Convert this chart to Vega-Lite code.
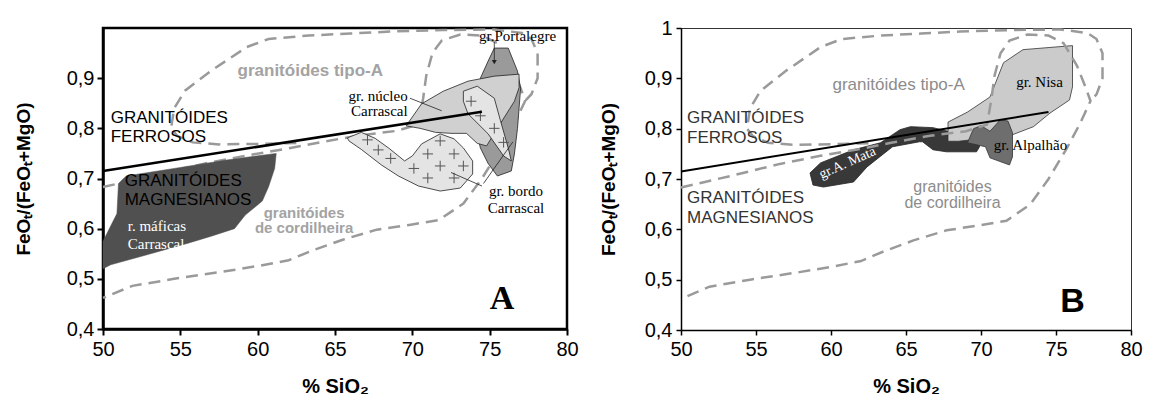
{
  "$schema": "https://vega.github.io/schema/vega-lite/v6.json",
  "background": "white",
  "padding": {"left": 12, "top": 17, "right": 5, "bottom": 5},
  "spacing": 18,
  "config": {
    "view": {"stroke": null},
    "axis": {"grid": false, "labelFont": "Liberation Sans", "titleFont": "Liberation Sans", "labelColor": "black", "titleColor": "black", "tickColor": "black", "domainColor": "black", "labelOverlap": false, "labelFlush": false}
  },
  "datasets": {
    "typeA": [
      {"x": 62.5, "y": 0.771}, {"x": 60, "y": 0.769}, {"x": 57.5, "y": 0.768}, {"x": 55.8, "y": 0.772}, {"x": 54.8, "y": 0.785}, {"x": 54.4, "y": 0.8}, {"x": 54.6, "y": 0.84}, {"x": 55.3, "y": 0.875}, {"x": 57, "y": 0.915}, {"x": 59.3, "y": 0.962}, {"x": 60.7, "y": 0.978}, {"x": 63.3, "y": 0.985}, {"x": 66, "y": 0.989}, {"x": 68.6, "y": 0.993}, {"x": 72, "y": 0.996}, {"x": 75.3, "y": 0.997}, {"x": 77.1, "y": 0.99}, {"x": 77.7, "y": 0.978}, {"x": 78.1, "y": 0.95}, {"x": 78.1, "y": 0.9}, {"x": 77.7, "y": 0.868}, {"x": 77.3, "y": 0.855}
    ],
    "cord": [
      {"x": 50, "y": 0.683}, {"x": 53.3, "y": 0.706}, {"x": 56.6, "y": 0.73}, {"x": 59.3, "y": 0.746}, {"x": 62, "y": 0.76}, {"x": 64, "y": 0.772}, {"x": 66.6, "y": 0.786}, {"x": 69, "y": 0.795}, {"x": 70.4, "y": 0.808}, {"x": 70.7, "y": 0.86}, {"x": 70.9, "y": 0.905}, {"x": 71.3, "y": 0.95}, {"x": 71.9, "y": 0.975}, {"x": 73.1, "y": 0.987}, {"x": 74.5, "y": 0.985}, {"x": 75.5, "y": 0.97}, {"x": 76.4, "y": 0.925}, {"x": 77, "y": 0.88}, {"x": 77.3, "y": 0.855}, {"x": 76.6, "y": 0.81}, {"x": 75.7, "y": 0.76}, {"x": 74.5, "y": 0.7}, {"x": 73.3, "y": 0.65}, {"x": 71.7, "y": 0.617}, {"x": 69.9, "y": 0.608}, {"x": 67.7, "y": 0.598}, {"x": 65.5, "y": 0.578}, {"x": 63.5, "y": 0.556}, {"x": 62, "y": 0.537}, {"x": 60.1, "y": 0.526}, {"x": 57.9, "y": 0.515}, {"x": 54.6, "y": 0.5}, {"x": 51.9, "y": 0.486}, {"x": 50, "y": 0.462}
    ],
    "bound": [{"x": 50, "y": 0.715}, {"x": 74.5, "y": 0.833}],
    "polyA": [
      {"g": "maf", "x": 50, "y": 0.52}, {"g": "maf", "x": 50, "y": 0.575}, {"g": "maf", "x": 50.9, "y": 0.63}, {"g": "maf", "x": 51.0, "y": 0.69}, {"g": "maf", "x": 51.5, "y": 0.705}, {"g": "maf", "x": 55, "y": 0.722}, {"g": "maf", "x": 58, "y": 0.737}, {"g": "maf", "x": 61.2, "y": 0.75}, {"g": "maf", "x": 61.1, "y": 0.72}, {"g": "maf", "x": 60.7, "y": 0.683}, {"g": "maf", "x": 60.3, "y": 0.655}, {"g": "maf", "x": 59.2, "y": 0.627}, {"g": "maf", "x": 58.5, "y": 0.6}, {"g": "maf", "x": 57, "y": 0.585}, {"g": "maf", "x": 55.5, "y": 0.571}, {"g": "maf", "x": 52.5, "y": 0.545}, {"g": "maf", "x": 50.5, "y": 0.528},
      {"g": "bordo", "x": 65.8, "y": 0.781}, {"g": "bordo", "x": 66.7, "y": 0.792}, {"g": "bordo", "x": 67.6, "y": 0.78}, {"g": "bordo", "x": 68.5, "y": 0.76}, {"g": "bordo", "x": 69.5, "y": 0.735}, {"g": "bordo", "x": 70, "y": 0.745}, {"g": "bordo", "x": 70.6, "y": 0.769}, {"g": "bordo", "x": 71.8, "y": 0.789}, {"g": "bordo", "x": 72.7, "y": 0.779}, {"g": "bordo", "x": 73.3, "y": 0.761}, {"g": "bordo", "x": 73.9, "y": 0.735}, {"g": "bordo", "x": 73.9, "y": 0.709}, {"g": "bordo", "x": 73.1, "y": 0.681}, {"g": "bordo", "x": 71.8, "y": 0.675}, {"g": "bordo", "x": 70.4, "y": 0.685}, {"g": "bordo", "x": 69.1, "y": 0.705}, {"g": "bordo", "x": 68, "y": 0.727}, {"g": "bordo", "x": 66.7, "y": 0.758}, {"g": "bordo", "x": 65.9, "y": 0.775},
      {"g": "portal", "x": 74.9, "y": 0.934}, {"g": "portal", "x": 75.3, "y": 0.96}, {"g": "portal", "x": 76.2, "y": 0.96}, {"g": "portal", "x": 76.8, "y": 0.914}, {"g": "portal", "x": 77, "y": 0.88}, {"g": "portal", "x": 76.8, "y": 0.8}, {"g": "portal", "x": 76.6, "y": 0.749}, {"g": "portal", "x": 76.4, "y": 0.715}, {"g": "portal", "x": 75.5, "y": 0.705}, {"g": "portal", "x": 74.9, "y": 0.73}, {"g": "portal", "x": 74.4, "y": 0.761}, {"g": "portal", "x": 74, "y": 0.815}, {"g": "portal", "x": 74.2, "y": 0.86}, {"g": "portal", "x": 74.4, "y": 0.9},
      {"g": "nucleo", "x": 69.6, "y": 0.805}, {"g": "nucleo", "x": 70.6, "y": 0.849}, {"g": "nucleo", "x": 72, "y": 0.874}, {"g": "nucleo", "x": 73.6, "y": 0.894}, {"g": "nucleo", "x": 75.3, "y": 0.904}, {"g": "nucleo", "x": 76.9, "y": 0.908}, {"g": "nucleo", "x": 76.9, "y": 0.881}, {"g": "nucleo", "x": 76.6, "y": 0.854}, {"g": "nucleo", "x": 75.5, "y": 0.8}, {"g": "nucleo", "x": 74.8, "y": 0.765}, {"g": "nucleo", "x": 74.2, "y": 0.77}, {"g": "nucleo", "x": 73.5, "y": 0.79}, {"g": "nucleo", "x": 72.5, "y": 0.79}, {"g": "nucleo", "x": 71.5, "y": 0.792}, {"g": "nucleo", "x": 70.5, "y": 0.8},
      {"g": "bordoUp", "x": 73.3, "y": 0.874}, {"g": "bordoUp", "x": 74.2, "y": 0.884}, {"g": "bordoUp", "x": 75.3, "y": 0.86}, {"g": "bordoUp", "x": 75.7, "y": 0.815}, {"g": "bordoUp", "x": 76.2, "y": 0.761}, {"g": "bordoUp", "x": 76.4, "y": 0.735}, {"g": "bordoUp", "x": 75.9, "y": 0.745}, {"g": "bordoUp", "x": 74.9, "y": 0.789}, {"g": "bordoUp", "x": 73.6, "y": 0.829}, {"g": "bordoUp", "x": 73.3, "y": 0.854}
    ],
    "plusA": [
      {"x": 67.1, "y": 0.777}, {"x": 67.8, "y": 0.757}, {"x": 68.6, "y": 0.74}, {"x": 70.1, "y": 0.72}, {"x": 71, "y": 0.749}, {"x": 71.8, "y": 0.775}, {"x": 72.7, "y": 0.749}, {"x": 71.8, "y": 0.725}, {"x": 73.3, "y": 0.725}, {"x": 71, "y": 0.701}, {"x": 72.7, "y": 0.701}, {"x": 73.8, "y": 0.854}, {"x": 74.4, "y": 0.825}, {"x": 75.3, "y": 0.8}, {"x": 75.9, "y": 0.772}
    ],
    "leadA": [
      {"g": "n1", "x": 69.85, "y": 0.86}, {"g": "n1", "x": 71.9, "y": 0.835},
      {"g": "b1", "x": 74.5, "y": 0.685}, {"g": "b1", "x": 72.5, "y": 0.712},
      {"g": "b2", "x": 74.6, "y": 0.69}, {"g": "b2", "x": 76.5, "y": 0.773},
      {"g": "pa", "x": 75.3, "y": 0.972}, {"g": "pa", "x": 75.3, "y": 0.93}
    ],
    "arrowA": [{"x": 75.3, "y": 0.932}],
    "polyB": [
      {"g": "amata", "x": 58.6, "y": 0.712}, {"g": "amata", "x": 59.3, "y": 0.732}, {"g": "amata", "x": 61.5, "y": 0.758}, {"g": "amata", "x": 63.3, "y": 0.772}, {"g": "amata", "x": 64.6, "y": 0.798}, {"g": "amata", "x": 65.3, "y": 0.804}, {"g": "amata", "x": 66.8, "y": 0.802}, {"g": "amata", "x": 68.5, "y": 0.79}, {"g": "amata", "x": 69.9, "y": 0.775}, {"g": "amata", "x": 69.9, "y": 0.764}, {"g": "amata", "x": 69.7, "y": 0.754}, {"g": "amata", "x": 67.7, "y": 0.754}, {"g": "amata", "x": 66.8, "y": 0.758}, {"g": "amata", "x": 66.1, "y": 0.774}, {"g": "amata", "x": 65.9, "y": 0.774}, {"g": "amata", "x": 64.1, "y": 0.764}, {"g": "amata", "x": 62.4, "y": 0.724}, {"g": "amata", "x": 61.5, "y": 0.694}, {"g": "amata", "x": 59.5, "y": 0.684}, {"g": "amata", "x": 58.8, "y": 0.688},
      {"g": "nisa", "x": 67.8, "y": 0.775}, {"g": "nisa", "x": 67.8, "y": 0.813}, {"g": "nisa", "x": 69.1, "y": 0.833}, {"g": "nisa", "x": 70.6, "y": 0.863}, {"g": "nisa", "x": 71.5, "y": 0.931}, {"g": "nisa", "x": 72.8, "y": 0.957}, {"g": "nisa", "x": 76.1, "y": 0.965}, {"g": "nisa", "x": 76.1, "y": 0.883}, {"g": "nisa", "x": 75.9, "y": 0.857}, {"g": "nisa", "x": 74.6, "y": 0.831}, {"g": "nisa", "x": 73.5, "y": 0.804}, {"g": "nisa", "x": 72.1, "y": 0.788}, {"g": "nisa", "x": 70, "y": 0.78}, {"g": "nisa", "x": 68.5, "y": 0.775},
      {"g": "alpal", "x": 69.1, "y": 0.772}, {"g": "alpal", "x": 69.5, "y": 0.8}, {"g": "alpal", "x": 70, "y": 0.806}, {"g": "alpal", "x": 70.6, "y": 0.795}, {"g": "alpal", "x": 71.3, "y": 0.818}, {"g": "alpal", "x": 71.8, "y": 0.815}, {"g": "alpal", "x": 72.1, "y": 0.792}, {"g": "alpal", "x": 72.1, "y": 0.744}, {"g": "alpal", "x": 71.9, "y": 0.728}, {"g": "alpal", "x": 70.6, "y": 0.742}, {"g": "alpal", "x": 70.3, "y": 0.764}
    ],
    "textA": [
      {"s": "black", "x": 50.5, "y": 0.82, "t": "GRANITÓIDES\nFERROSOS"},
      {"s": "black", "x": 51.4, "y": 0.695, "t": "GRANITÓIDES\nMAGNESIANOS"},
      {"s": "grayL", "x": 58.7, "y": 0.914, "t": "granitóides tipo-A"},
      {"s": "grayC", "x": 63.0, "y": 0.631, "t": "granitóides\nde cordilheira"},
      {"s": "white", "x": 51.6, "y": 0.605, "t": "r. máficas\nCarrascal"},
      {"s": "serifC", "x": 76.8, "y": 0.984, "t": "gr.Portalegre"},
      {"s": "serifR", "x": 69.7, "y": 0.864, "t": "gr. núcleo\nCarrascal"},
      {"s": "serifC2", "x": 76.7, "y": 0.675, "t": "gr. bordo\nCarrascal"},
      {"s": "big", "x": 75.8, "y": 0.46, "t": "A"}
    ],
    "textB": [
      {"s": "black", "x": 50.4, "y": 0.8215, "t": "GRANITÓIDES\nFERROSOS"},
      {"s": "black", "x": 50.4, "y": 0.6624, "t": "GRANITÓIDES\nMAGNESIANOS"},
      {"s": "grayL", "x": 60.1, "y": 0.887, "t": "granitóides tipo-A"},
      {"s": "grayC", "x": 68.1, "y": 0.684, "t": "granitóides\nde cordilheira"},
      {"s": "serif", "x": 73.9, "y": 0.893, "t": "gr. Nisa"},
      {"s": "serif", "x": 73.3, "y": 0.768, "t": "gr. Alpalhão"},
      {"s": "mata", "x": 61.1, "y": 0.732, "t": "gr.A. Mata"},
      {"s": "big", "x": 76.1, "y": 0.456, "t": "B"}
    ]
  },
  "hconcat": [
    {
      "width": 464,
      "height": 301,
      "view": {"stroke": "black", "strokeWidth": 2.5},
      "encoding": {
        "x": {"field": "x", "type": "quantitative", "title": "% SiO₂", "scale": {"domain": [50, 80], "nice": false, "zero": false},
          "axis": {"values": [50, 55, 60, 65, 70, 75, 80], "tickSize": 6, "tickWidth": 2, "labelPadding": 4, "labelFontSize": 20, "titleFontSize": 20, "titleFontWeight": "bold", "titlePadding": 17, "domainWidth": 2.5}},
        "y": {"field": "y", "type": "quantitative", "title": "FeOₜ/(FeOₜ+MgO)", "scale": {"domain": [0.4, 1.0], "nice": false, "zero": false},
          "axis": {"values": [0.4, 0.5, 0.6, 0.7, 0.8, 0.9], "tickSize": 6, "tickWidth": 2, "labelPadding": 3, "labelFontSize": 20, "titleFontSize": 19, "titleFontWeight": "bold", "titlePadding": 33, "domainWidth": 2.5,
            "labelExpr": "replace(format(datum.value, '.1f'), '.', ',')"}}
      },
      "layer": [
        {"data": {"name": "typeA"}, "mark": {"type": "line", "stroke": "#9a9a9a", "strokeWidth": 2.5, "strokeDash": [12, 7]}, "encoding": {"order": {"value": null}}},
        {"data": {"name": "cord"}, "mark": {"type": "line", "stroke": "#9a9a9a", "strokeWidth": 2.5, "strokeDash": [12, 7]}, "encoding": {"order": {"value": null}}},
        {"data": {"name": "polyA"}, "transform": [{"filter": "datum.g == 'maf'"}], "mark": {"type": "line", "interpolate": "linear-closed", "fill": "#505050", "stroke": "#505050", "strokeWidth": 0.5}, "encoding": {"order": {"value": null}}},
        {"data": {"name": "polyA"}, "transform": [{"filter": "datum.g == 'bordo'"}], "mark": {"type": "line", "interpolate": "linear-closed", "fill": "#e4e4e4", "stroke": "#222", "strokeWidth": 0.8}, "encoding": {"order": {"value": null}}},
        {"data": {"name": "polyA"}, "transform": [{"filter": "datum.g == 'portal'"}], "mark": {"type": "line", "interpolate": "linear-closed", "fill": "#9a9a9a", "stroke": "#222", "strokeWidth": 0.8}, "encoding": {"order": {"value": null}}},
        {"data": {"name": "polyA"}, "transform": [{"filter": "datum.g == 'nucleo'"}], "mark": {"type": "line", "interpolate": "linear-closed", "fill": "#d0d0d0", "stroke": "#222", "strokeWidth": 0.8}, "encoding": {"order": {"value": null}}},
        {"data": {"name": "polyA"}, "transform": [{"filter": "datum.g == 'bordoUp'"}], "mark": {"type": "line", "interpolate": "linear-closed", "fill": "#e4e4e4", "stroke": "#222", "strokeWidth": 0.8}, "encoding": {"order": {"value": null}}},
        {"data": {"name": "plusA"}, "mark": {"type": "point", "shape": "M-1,0H1M0,-1V1", "size": 110, "filled": false, "stroke": "#555", "strokeWidth": 1, "opacity": 1}},
        {"data": {"name": "bound"}, "mark": {"type": "line", "stroke": "black", "strokeWidth": 2.5}, "encoding": {}},
        {"data": {"name": "leadA"}, "mark": {"type": "line", "stroke": "#222", "strokeWidth": 0.8}, "encoding": {"detail": {"field": "g"}, "order": {"value": null}}},
        {"data": {"name": "arrowA"}, "mark": {"type": "point", "shape": "triangle-down", "size": 25, "filled": true, "fill": "#222", "opacity": 1}},
        {"data": {"name": "textA"}, "transform": [{"filter": "datum.s == 'black'"}], "mark": {"type": "text", "font": "Liberation Sans", "fontSize": 17, "color": "black", "align": "left", "baseline": "middle", "lineBreak": "\n", "lineHeight": 19}, "encoding": {"text": {"field": "t"}}},
        {"data": {"name": "textA"}, "transform": [{"filter": "datum.s == 'grayL'"}], "mark": {"type": "text", "font": "Liberation Sans", "fontSize": 17, "fontWeight": "bold", "color": "#a3a3a3", "align": "left", "baseline": "middle"}, "encoding": {"text": {"field": "t"}}},
        {"data": {"name": "textA"}, "transform": [{"filter": "datum.s == 'grayC'"}], "mark": {"type": "text", "font": "Liberation Sans", "fontSize": 15, "fontWeight": "bold", "color": "#a3a3a3", "align": "center", "baseline": "middle", "lineBreak": "\n", "lineHeight": 15}, "encoding": {"text": {"field": "t"}}},
        {"data": {"name": "textA"}, "transform": [{"filter": "datum.s == 'white'"}], "mark": {"type": "text", "font": "Liberation Serif", "fontSize": 15, "color": "white", "align": "left", "baseline": "middle", "lineBreak": "\n", "lineHeight": 18}, "encoding": {"text": {"field": "t"}}},
        {"data": {"name": "textA"}, "transform": [{"filter": "datum.s == 'serifC'"}], "mark": {"type": "text", "font": "Liberation Serif", "fontSize": 15, "color": "black", "align": "center", "baseline": "middle"}, "encoding": {"text": {"field": "t"}}},
        {"data": {"name": "textA"}, "transform": [{"filter": "datum.s == 'serifR'"}], "mark": {"type": "text", "font": "Liberation Serif", "fontSize": 15, "color": "black", "align": "right", "baseline": "middle", "lineBreak": "\n", "lineHeight": 15}, "encoding": {"text": {"field": "t"}}},
        {"data": {"name": "textA"}, "transform": [{"filter": "datum.s == 'serifC2'"}], "mark": {"type": "text", "font": "Liberation Serif", "fontSize": 15, "color": "black", "align": "center", "baseline": "middle", "lineBreak": "\n", "lineHeight": 17}, "encoding": {"text": {"field": "t"}}},
        {"data": {"name": "textA"}, "transform": [{"filter": "datum.s == 'big'"}], "mark": {"type": "text", "font": "Liberation Serif", "fontSize": 34, "fontWeight": "bold", "color": "black", "align": "center", "baseline": "middle"}, "encoding": {"text": {"field": "t"}}}
      ]
    },
    {
      "width": 450,
      "height": 302,
      "view": {"stroke": "#333", "strokeWidth": 1},
      "encoding": {
        "x": {"field": "x", "type": "quantitative", "title": "% SiO₂", "scale": {"domain": [50, 80], "nice": false, "zero": false},
          "axis": {"values": [50, 55, 60, 65, 70, 75, 80], "tickSize": 5, "tickWidth": 1.5, "labelPadding": 4, "labelFontSize": 20, "titleFontSize": 20, "titleFontWeight": "bold", "titlePadding": 17, "domainWidth": 1.5}},
        "y": {"field": "y", "type": "quantitative", "title": "FeOₜ/(FeOₜ+MgO)", "scale": {"domain": [0.4, 1.0], "nice": false, "zero": false},
          "axis": {"values": [0.4, 0.5, 0.6, 0.7, 0.8, 0.9, 1.0], "tickSize": 5, "tickWidth": 1.5, "labelPadding": 4, "labelFontSize": 20, "titleFontSize": 19, "titleFontWeight": "bold", "titlePadding": 26, "domainWidth": 1.5,
            "labelExpr": "datum.value >= 0.99 ? '1' : replace(format(datum.value, '.1f'), '.', ',')"}}
      },
      "layer": [
        {"data": {"name": "polyB"}, "transform": [{"filter": "datum.g == 'amata'"}], "mark": {"type": "line", "interpolate": "linear-closed", "fill": "#383838", "stroke": "#222", "strokeWidth": 0.8}, "encoding": {"order": {"value": null}}},
        {"data": {"name": "polyB"}, "transform": [{"filter": "datum.g == 'nisa'"}], "mark": {"type": "line", "interpolate": "linear-closed", "fill": "#cbcbcb", "stroke": "#333", "strokeWidth": 0.8}, "encoding": {"order": {"value": null}}},
        {"data": {"name": "polyB"}, "transform": [{"filter": "datum.g == 'alpal'"}], "mark": {"type": "line", "interpolate": "linear-closed", "fill": "#6e6e6e", "stroke": "#333", "strokeWidth": 0.8}, "encoding": {"order": {"value": null}}},
        {"data": {"name": "typeA"}, "mark": {"type": "line", "stroke": "#9a9a9a", "strokeWidth": 2.5, "strokeDash": [12, 7]}, "encoding": {"order": {"value": null}}},
        {"data": {"name": "cord"}, "mark": {"type": "line", "stroke": "#9a9a9a", "strokeWidth": 2.5, "strokeDash": [12, 7]}, "encoding": {"order": {"value": null}}},
        {"data": {"name": "bound"}, "mark": {"type": "line", "stroke": "black", "strokeWidth": 2}, "encoding": {}},
        {"data": {"name": "textB"}, "transform": [{"filter": "datum.s == 'black'"}], "mark": {"type": "text", "font": "Liberation Sans", "fontSize": 17, "color": "#333", "align": "left", "baseline": "middle", "lineBreak": "\n", "lineHeight": 20}, "encoding": {"text": {"field": "t"}}},
        {"data": {"name": "textB"}, "transform": [{"filter": "datum.s == 'grayL'"}], "mark": {"type": "text", "font": "Liberation Sans", "fontSize": 17, "letterSpacing": 1, "color": "#8c8c8c", "align": "left", "baseline": "middle"}, "encoding": {"text": {"field": "t"}}},
        {"data": {"name": "textB"}, "transform": [{"filter": "datum.s == 'grayC'"}], "mark": {"type": "text", "font": "Liberation Sans", "fontSize": 16, "letterSpacing": 0.9, "color": "#8c8c8c", "align": "center", "baseline": "middle", "lineBreak": "\n", "lineHeight": 16}, "encoding": {"text": {"field": "t"}}},
        {"data": {"name": "textB"}, "transform": [{"filter": "datum.s == 'serif'"}], "mark": {"type": "text", "font": "Liberation Serif", "fontSize": 15, "color": "black", "align": "center", "baseline": "middle"}, "encoding": {"text": {"field": "t"}}},
        {"data": {"name": "textB"}, "transform": [{"filter": "datum.s == 'mata'"}], "mark": {"type": "text", "font": "Liberation Serif", "fontSize": 14, "color": "white", "align": "center", "baseline": "middle", "angle": 336}, "encoding": {"text": {"field": "t"}}},
        {"data": {"name": "textB"}, "transform": [{"filter": "datum.s == 'big'"}], "mark": {"type": "text", "font": "Liberation Sans", "fontSize": 34, "fontWeight": "bold", "color": "black", "align": "center", "baseline": "middle"}, "encoding": {"text": {"field": "t"}}}
      ]
    }
  ]
}
